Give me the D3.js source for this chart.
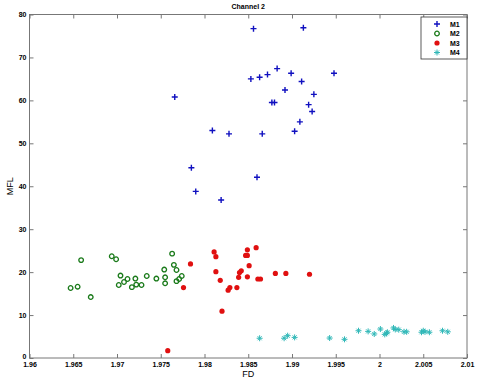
<!DOCTYPE html>
<html>
<head>
<meta charset="utf-8">
<script src="https://cdn.jsdelivr.net/npm/d3@7"></script>
<style>
  body { margin: 0; background: #fff; }
  svg { font-family: "Liberation Sans", Arial, sans-serif; }
  .tick text { font-size: 7px; font-weight: bold; fill: #000; }
</style>
</head>
<body>
<svg id="svg1" width="482" height="380"></svg>
<script>
// series values: [FD, MFL]
var m1 = [[1.9856,76.7],[1.9913,76.9],[1.9883,67.4],[1.9853,65.0],[1.9863,65.4],[1.9872,66.0],
  [1.9899,66.3],[1.9948,66.3],[1.9911,64.4],[1.9766,60.8],[1.9892,62.4],[1.9925,61.4],
  [1.9877,59.5],[1.9880,59.5],[1.9919,59.0],[1.9923,57.4],[1.9909,55.0],[1.9809,53.0],
  [1.9828,52.2],[1.9866,52.2],[1.9903,52.8],[1.9785,44.3],[1.9860,42.1],[1.9790,38.8],[1.9819,36.8]];
var m2 = [[1.9659,22.8],[1.9647,16.3],[1.9655,16.6],[1.9670,14.2],[1.9694,23.7],[1.9699,23.0],
  [1.9704,19.2],[1.9702,17.0],[1.9708,17.7],[1.9712,18.4],[1.9717,16.5],[1.9721,18.5],
  [1.9722,17.1],[1.9728,17.0],[1.9734,19.1],[1.9745,18.5],[1.9754,20.6],[1.9755,18.8],
  [1.9755,17.4],[1.9763,24.3],[1.9765,21.7],[1.9768,20.5],[1.9768,17.9],[1.9771,18.4],[1.9774,19.1]];
var m3 = [[1.9784,21.9],[1.9776,16.4],[1.9811,24.7],[1.9813,23.6],[1.9813,20.1],[1.9818,18.1],
  [1.9820,10.9],[1.9827,15.8],[1.9829,16.4],[1.9837,16.4],[1.9839,18.8],[1.9840,19.9],
  [1.9842,20.3],[1.9847,23.9],[1.9849,23.9],[1.9849,25.2],[1.9851,21.5],[1.9849,18.9],
  [1.9859,25.7],[1.9861,18.4],[1.9864,18.4],[1.9881,19.7],[1.9893,19.7],[1.9920,19.5],[1.9758,1.7]];
var m4 = [[1.9863,4.6],[1.9891,4.6],[1.9895,5.2],[1.9903,4.8],[1.9943,4.65],[1.9960,4.35],
  [1.9976,6.35],[1.9987,6.2],[1.9994,5.6],[2.0001,6.75],[2.0006,5.5],[2.0008,5.75],
  [2.0009,6.0],[2.0016,7.0],[2.0018,6.65],[2.0022,6.6],[2.0028,6.1],[2.0031,6.1],
  [2.0048,6.0],[2.0050,6.35],[2.0052,6.1],[2.0057,6.0],[2.0072,6.35],[2.0078,6.1]];

var seriesNames = ['M1','M2','M3','M4'];
var xTicks = [1.96,1.965,1.97,1.975,1.98,1.985,1.99,1.995,2,2.005,2.01];
var xTickLabels = ['1.96','1.965','1.97','1.975','1.98','1.985','1.99','1.995','2','2.005','2.01'];
var yTicks = [0,10,20,30,40,50,60,70,80];

var svg = d3.select('svg');
var plotLeft = 29.5, plotRight = 467, plotTop = 14.5, plotBottom = 358;

var x = d3.scaleLinear().domain([1.96, 2.01]).range([plotLeft, plotRight]);
var y = d3.scaleLinear().domain([0, 80]).range([plotBottom, plotTop]);

// axes box
svg.append('rect')
    .attr('x', plotLeft).attr('y', plotTop)
    .attr('width', plotRight - plotLeft).attr('height', plotBottom - plotTop)
    .attr('fill', 'none').attr('stroke', '#777').attr('stroke-width', 1);

function greyTicks(g) {
    g.select('.domain').remove();
    g.selectAll('line').attr('stroke', '#777');
}

svg.append('g')
    .attr('transform', 'translate(0,' + plotBottom + ')')
    .call(d3.axisBottom(x).tickValues(xTicks).tickFormat(function(d, i){ return xTickLabels[i]; })
        .tickSizeInner(-4).tickSizeOuter(0).tickPadding(4.5))
    .call(greyTicks);

svg.append('g')
    .attr('transform', 'translate(0,' + plotTop + ')')
    .call(d3.axisTop(x).tickValues(xTicks).tickFormat('').tickSizeInner(-4).tickSizeOuter(0))
    .call(greyTicks);

svg.append('g')
    .attr('transform', 'translate(' + plotLeft + ',0)')
    .call(d3.axisLeft(y).tickValues(yTicks).tickSizeInner(-4).tickSizeOuter(0).tickPadding(3))
    .call(greyTicks)
    .call(function(g){ g.selectAll('.tick text').filter(function(d){ return d === 0; }).attr('dy', '0.1em'); });

svg.append('g')
    .attr('transform', 'translate(' + plotRight + ',0)')
    .call(d3.axisRight(y).tickValues(yTicks).tickFormat('').tickSizeInner(-4).tickSizeOuter(0))
    .call(greyTicks);

// titles
svg.append('text').attr('x', (plotLeft + plotRight) / 2).attr('y', 9)
    .attr('text-anchor', 'middle').attr('font-size', 7).attr('font-weight', 'bold')
    .text('Channel 2');
svg.append('text').attr('x', (plotLeft + plotRight) / 2).attr('y', 377)
    .attr('text-anchor', 'middle').attr('font-size', 9)
    .text('FD');
svg.append('text').attr('transform', 'translate(13,' + ((plotTop + plotBottom) / 2) + ') rotate(-90)')
    .attr('text-anchor', 'middle').attr('font-size', 9)
    .text('MFL');

// marker drawers
function plus(g, c) {
    g.append('path').attr('d', 'M-3,0H3M0,-3V3').attr('stroke', c).attr('stroke-width', 1.4).attr('fill', 'none');
}
function ring(g, c) {
    g.append('circle').attr('r', 2.3).attr('stroke', c).attr('stroke-width', 1.3).attr('fill', 'none');
}
function dot(g, c) {
    g.append('circle').attr('r', 2.6).attr('fill', c);
}
function star(g, c) {
    g.append('path').attr('d', 'M-3,0H3M0,-3V3M-2,-2L2,2M-2,2L2,-2').attr('stroke', c).attr('stroke-width', 1).attr('fill', 'none');
}

var styles = [
    {data: m1, color: '#1010c0', draw: plus},
    {data: m2, color: '#1a7a1a', draw: ring},
    {data: m3, color: '#e01010', draw: dot},
    {data: m4, color: '#30b8b8', draw: star}
];

styles.forEach(function(s){
    svg.append('g').selectAll('g')
        .data(s.data)
        .enter()
        .append('g')
        .attr('transform', function(d){ return 'translate(' + x(d[0]) + ',' + y(d[1]) + ')'; })
        .each(function(){ s.draw(d3.select(this), s.color); });
});

// legend
var legend = svg.append('g').attr('transform', 'translate(421,17)');
legend.append('rect').attr('width', 46).attr('height', 42)
    .attr('fill', '#fff').attr('stroke', '#333').attr('stroke-width', 0.8);
seriesNames.forEach(function(name, i){
    var row = legend.append('g').attr('transform', 'translate(0,' + (7 + i * 9.5) + ')');
    styles[i].draw(row.append('g').attr('transform', 'translate(16,0)'), styles[i].color);
    row.append('text').attr('x', 29).attr('y', 2.5)
        .attr('font-size', 7).attr('font-weight', 'bold').text(name);
});
</script>
</body>
</html>
